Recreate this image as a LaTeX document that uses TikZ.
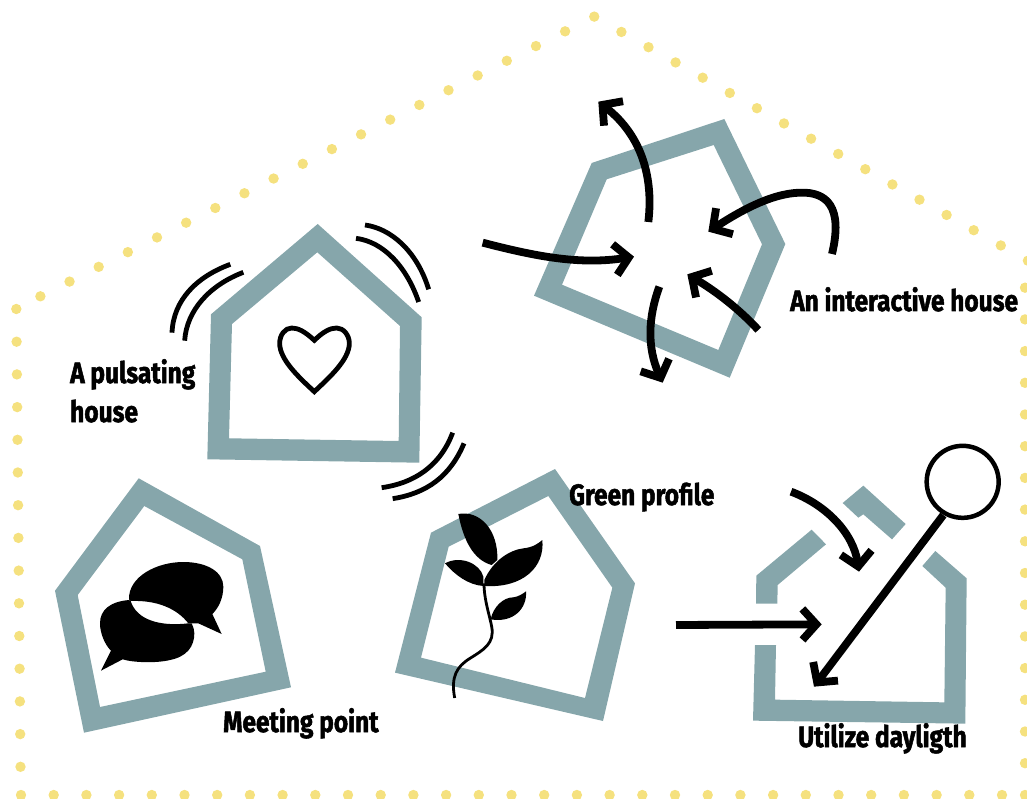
\documentclass[tikz,border=0pt]{standalone}
\usepackage{fontspec}
\setmainfont{Fira Sans}[FakeStretch=0.83,BoldFeatures={FakeBold=1.7}]
\usetikzlibrary{arrows.meta}
\definecolor{housecol}{HTML}{86A6AB}
\definecolor{dotcol}{HTML}{F5E17F}
\tikzset{
  housefill/.style={fill=housecol,even odd rule,draw=none},
  thickarrow/.style={draw=black,line width=7.8pt,line cap=butt,-{Straight Barb[length=14pt,width=31pt,line width=7.8pt]}},
  waveline/.style={draw=black,line width=4.8pt,line cap=butt},
  yellowdot/.style={fill=dotcol,draw=none},
  lab/.style={font=\bfseries\fontsize{29.5}{35}\selectfont,anchor=base west,inner sep=0pt,text=black},
  zoomed/.style={scale=0.333333}
}
\begin{document}
\begin{tikzpicture}[x=1pt,y=-1pt]
\clip (0,0) rectangle (1027,799);
% --- dotted outline
\foreach \k in {0,...,19} \fill[yellowdot] ({40.4+29.15*\k},{296.3-14.72*\k}) circle (5.2);
\foreach \k in {1,...,16} \fill[yellowdot] ({594.3+27.1*\k},{16.7+15.25*\k}) circle (5.2);
\foreach \k in {0,...,15} \fill[yellowdot] (1025,{287.7+31.7*\k}) circle (5.2);
\foreach \k in {0,...,14} \fill[yellowdot] ({16.3+0.3*\k},{309+32.7*\k}) circle (5.2);
\foreach \k in {0,...,30} \fill[yellowdot] ({21+32.7*\k},795) circle (5.2);
\fill[yellowdot] (1025,795) circle (5.2);
% --- pulsating house
\fill[housefill] (317.7,224) -- (421.7,317.3) -- (419.3,462.7) -- (207.3,459.3) -- (211,314.3) -- cycle
 (317.3,252.3) -- (400,326) -- (398.7,441) -- (229,438.3) -- (232,324) -- cycle;
\begin{scope}[shift={(150,210)},zoomed]
 \draw[waveline,miter limit=10] (493,391) .. controls (465,365) and (445,354) .. (425,354) .. controls (405,354) and (389,375) .. (389,400) .. controls (389,450) and (450,505) .. (493,545) .. controls (535,505) and (598,450) .. (598,400) .. controls (598,375) and (580,354) .. (560,354) .. controls (540,354) and (520,365) .. (493,391) -- cycle;
 \draw[waveline] (645,45) .. controls (720,55) and (800,120) .. (836,238);
 \draw[waveline] (618,85) .. controls (700,95) and (770,170) .. (806,276);
 \draw[waveline] (241,163) .. controls (140,200) and (70,270) .. (66,368);
 \draw[waveline] (280,187) .. controls (180,225) and (110,300) .. (104,392);
 \draw[waveline] (908,668) .. controls (870,770) and (790,820) .. (695,833);
 \draw[waveline] (942,700) .. controls (900,800) and (830,850) .. (728,866);
\end{scope}
% --- interactive house
\fill[housefill] (724.3,119) -- (785.3,244) -- (729.7,377.7) -- (534,295.7) -- (591.7,163) -- cycle
 (713.7,145) -- (762,244.3) -- (718.3,350) -- (562,284.7) -- (606.7,179.3) -- cycle;
\begin{scope}[shift={(470,80)},zoomed]
 \coordinate (a1s) at (535,426); \coordinate (a1e) at (385,65);
 \coordinate (a2s) at (38,488);  \coordinate (a2e) at (492,530);
 \coordinate (a3s) at (1086,522);\coordinate (a3m) at (990,338); \coordinate (a3e) at (715,455);
 \coordinate (a4s) at (865,750); \coordinate (a4e) at (652,583);
 \coordinate (a5s) at (568,620); \coordinate (a5e) at (578,908);
 \draw[thickarrow] (a1s) .. controls (550,300) and (520,170) .. (a1e);
 \draw[thickarrow] (a2s) .. controls (200,530) and (330,555) .. (a2e);
 \draw[thickarrow] (a3s) .. controls (1120,380) and (1070,335) .. (a3m) .. controls (900,340) and (800,400) .. (a3e);
 \draw[thickarrow] (a4s) .. controls (810,690) and (740,635) .. (a4e);
 \draw[thickarrow] (a5s) .. controls (535,710) and (530,800) .. (a5e);
\end{scope}
% --- meeting house
\fill[housefill] (138.7,478.3) -- (260,546) -- (291,687.3) -- (84,732.7) -- (55,590.7) -- cycle
 (144.3,506) -- (242.3,559.3) -- (265.7,671.7) -- (100,707) -- (77.7,595) -- cycle;
\begin{scope}[shift={(60,460)},zoomed]
 \fill[black] (207,418) .. controls (205,350) and (290,306) .. (370,306) .. controls (440,306) and (490,335) .. (490,380) .. controls (490,415) and (475,445) .. (457,462) -- (485,522) -- (415,490) -- (385,490) .. controls (350,445) and (290,420) .. (212,423) -- cycle;
 \fill[black] (207,420) .. controls (150,425) and (120,450) .. (120,490) .. controls (120,520) and (135,555) .. (153,572) -- (123,632) -- (188,598) .. controls (220,608) and (290,610) .. (330,600) .. controls (380,590) and (403,560) .. (403,520) .. controls (403,510) and (400,500) .. (395,490) -- (385,490) .. controls (300,500) and (230,480) .. (212,423) -- cycle;
\end{scope}
% --- green house
\begin{scope}[shift={(390,460)},zoomed]
 \fill[housefill] (495,27) -- (735,370) -- (639,783) -- (15,638) -- (123,218) -- cycle
  (475,108) -- (667,383) -- (585,714) -- (93,593) -- (176,260) -- cycle;
 \fill[black] (205,162) .. controls (270,150) and (325,210) .. (322,300) -- (305,315) .. controls (250,300) and (220,240) .. (205,162) -- cycle;
 \fill[black] (165,310) .. controls (210,285) and (270,310) .. (280,350) -- (280,378) .. controls (235,375) and (195,345) .. (165,310) -- cycle;
 \fill[black] (283,360) .. controls (310,300) and (360,270) .. (400,265) .. controls (430,262) and (445,250) .. (457,240) .. controls (465,320) and (400,385) .. (283,378) -- cycle;
 \fill[black] (302,478) .. controls (310,440) and (340,412) .. (370,412) .. controls (385,410) and (398,402) .. (408,394) .. controls (412,445) and (370,490) .. (302,478) -- cycle;
 \draw[black,line width=2.8pt] (282,370) .. controls (282,420) and (300,470) .. (305,500) .. controls (315,550) and (280,570) .. (240,595) .. controls (200,620) and (182,650) .. (194,714);
\end{scope}
% --- daylight house
\begin{scope}[shift={(660,430)},zoomed]
 \fill[housefill] (288,521) -- (289,437) -- (455,299) -- (498,343) -- (353,465) -- (352,521) -- cycle;
 \fill[housefill] (548,219) -- (610,167) -- (737,282) -- (696,328) -- (610,253) -- (595,263) -- cycle;
 \fill[housefill] (826,363) -- (920,445) -- (916,881) -- (279,872) -- (285,645) -- (348,645) -- (345,809) -- (853,817) -- (857,473) -- (787,408) -- cycle;
 \node[circle,draw=black,line width=4.5pt,minimum size=72pt,inner sep=0pt] (sun) at (908,155.5) {};
 \coordinate (d1s) at (850,255);
 \coordinate (d1e) at (462,770);
 \coordinate (d2s) at (393,185); \coordinate (d2e) at (597,425);
 \coordinate (d3s) at (48,585);  \coordinate (d3e) at (485,583);
 \draw[thickarrow] (d1s) -- (d1e);
 \draw[thickarrow] (d2s) .. controls (500,225) and (580,310) .. (d2e);
 \draw[thickarrow] (d3s) -- (d3e);
\end{scope}
% --- labels
\node[lab] (lp1) at (70,383) {A pulsating};
\node[lab] (lp2) at (70,422) {house};
\node[lab] (li) at (790,311) {An interactive house};
\node[lab] (lg) at (569,505) {Green profile};
\node[lab] (lm) at (223,732) {Meeting point};
\node[lab] (lu) at (798,747) {Utilize dayligth};
\end{tikzpicture}
\end{document}
